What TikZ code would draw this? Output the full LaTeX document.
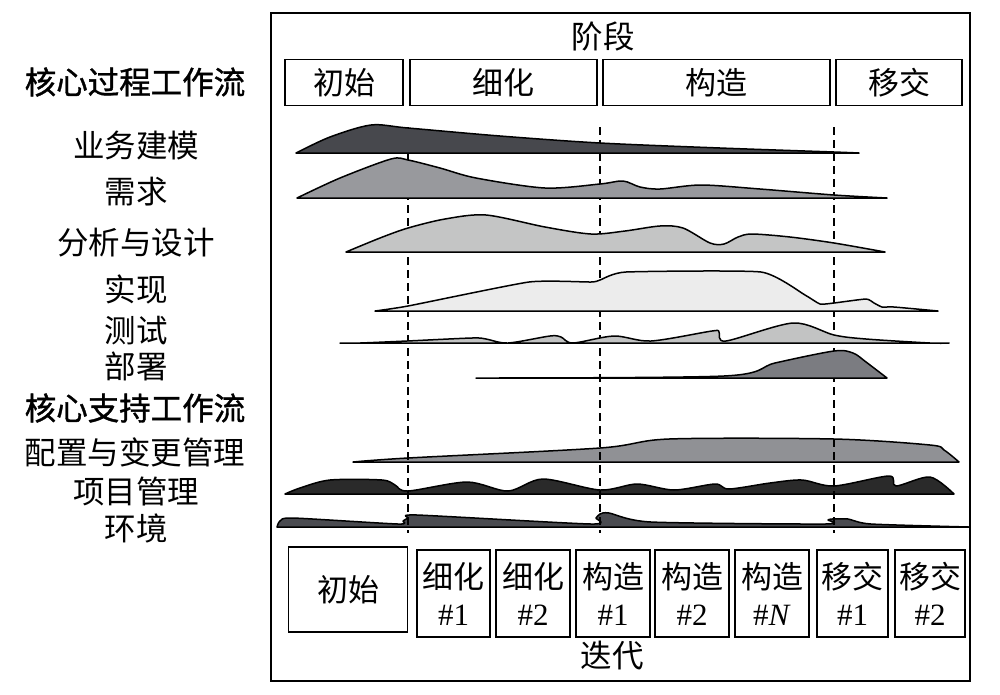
\documentclass[tikz,border=0pt]{standalone}
\usepackage{fontspec}
\setmainfont{Liberation Serif}
\newfontfamily\cjk{Noto Sans CJK SC}
\newfontfamily\cjkb[FakeBold=1.2]{Noto Sans CJK SC}
\definecolor{cA}{HTML}{47484D}
\definecolor{cB}{HTML}{98999D}
\definecolor{cC}{HTML}{C4C5C5}
\definecolor{cD}{HTML}{ECECEC}
\definecolor{cE}{HTML}{C2C3C3}
\definecolor{cF}{HTML}{7B7C81}
\definecolor{cG}{HTML}{909195}
\definecolor{cH}{HTML}{2A2A2A}
\definecolor{cI}{HTML}{4A4B50}
\begin{document}
\begin{tikzpicture}[x=1pt,y=-1pt,
  lab/.style={font=\cjk\fontsize{31.5}{34}\selectfont, inner sep=0pt},
  head/.style={font=\cjkb\fontsize{31.5}{34}\selectfont, inner sep=0pt},
  pbox/.style={draw, line width=1.5pt, inner sep=0pt, minimum height=46pt, font=\cjk\fontsize{31}{34}\selectfont},
  ibox/.style={draw, line width=1.5pt, inner sep=0pt, align=center, font=\fontsize{31}{37}\selectfont},
  hump/.style={draw=black, line width=1.5pt, line join=round},
  sepline/.style={line width=1.3pt, dash pattern=on 8pt off 5pt}]
\useasboundingbox (0,0) rectangle (1000,694);
% frame
\node[draw, line width=1.6pt, minimum width=699pt, minimum height=668pt, inner sep=0pt] (frame) at (620.5,347) {};
\node[lab] (phase) at (603,36) {阶段};
\node[pbox, minimum width=118pt] (pInit) at (344,82.5) {初始};
\node[pbox, minimum width=187pt] (pElab) at (503.5,82.5) {细化};
\node[pbox, minimum width=227pt] (pCons) at (716.5,82.5) {构造};
\node[pbox, minimum width=126pt] (pTran) at (899,82.5) {移交};
% left labels
\node[head] (h1) at (135,82) {核心过程工作流};
\node[lab] (l1) at (136,146) {业务建模};
\node[lab] (l2) at (136,192) {需求};
\node[lab] (l3) at (136,243) {分析与设计};
\node[lab] (l4) at (136,289) {实现};
\node[lab] (l5) at (136,331) {测试};
\node[lab] (l6) at (136,366) {部署};
\node[head] (h2) at (135,408) {核心支持工作流};
\node[lab] (l7) at (135,452) {配置与变更管理};
\node[lab] (l8) at (136,491) {项目管理};
\node[lab] (l9) at (136,528) {环境};
% supporting workflows (under dashed lines)
\draw[hump, fill=cG] plot[smooth, tension=0.5] coordinates {(353,462) (408,458) (600,448) (669,439) (834,439) (930,445) (944,450) (959,462)} -- cycle;
\draw[hump, fill=cH] plot[smooth, tension=0.5] coordinates {(285,494) (300,488) (330,480) (382,480) (395,485) (408,491) (467,482) (508,491) (543,479) (600,490) (637,484) (674,490) (715,484) (729,489) (770,483) (802,480) (834,486) (889,476) (896,486) (930,477) (954,494)} -- cycle;
\draw[hump, fill=cI] plot[smooth, tension=0.4] coordinates {(277,527) (280,521) (293,518) (398,524) (403,521) (408,518) (417,515) (591,524) (596,518) (600,514) (609,513) (651,522) (825,524) (828,520) (832,519) (848,519) (871,524) (969,527)} -- cycle;
% dashed phase separators
\coordinate (d1t) at (408,127); \coordinate (d1b) at (408,533);
\coordinate (d2t) at (600,127); \coordinate (d2b) at (600,533);
\coordinate (d3t) at (834,127); \coordinate (d3b) at (834,533);
\draw[sepline] (d1t) -- (d1b);
\draw[sepline] (d2t) -- (d2b);
\draw[sepline] (d3t) -- (d3b);
% core process workflows
\draw[hump, fill=cA] plot[smooth, tension=0.5] coordinates {(296,153) (330,137) (371,125) (408,128) (500,136) (600,143) (720,148) (834,152) (859,153)} -- cycle;
\draw[hump, fill=cB] plot[smooth, tension=0.5] coordinates {(297,198) (340,178) (391,159) (408,160) (440,168) (476,178) (545,188) (600,184) (623,181) (640,187) (660,189) (701,185) (760,189) (834,195) (887,198)} -- cycle;
\draw[hump, fill=cC] plot[smooth, tension=0.5] coordinates {(346,252) (380,238) (408,228) (445,219) (486,215) (545,227) (591,234) (625,231) (660,226) (683,228) (710,243) (724,244) (738,237) (752,234) (790,237) (834,243) (885,252)} -- cycle;
\draw[hump, fill=cD] plot[smooth, tension=0.3] coordinates {(375,311) (408,306) (529,282) (591,282) (600,280) (626,272) (761,272) (805,295) (820,304) (834,303) (866,299) (874,303) (882,307) (894,307) (938,311)} -- cycle;
\draw[hump, fill=cE] plot[smooth, tension=0.5] coordinates {(340,343) (360,343) (407,341) (472,338) (486,339) (508,343) (550,336) (561,337) (573,343) (614,336) (651,341) (712,331) (719,332) (726,341) (793,323) (834,335) (866,339) (930,343) (949,343)} -- cycle;
\draw[hump, fill=cF] plot[smooth, tension=0.5] coordinates {(476,378) (724,376) (775,363) (834,351) (853,353) (866,362) (887,378)} -- cycle;
% iterations
\node[ibox, minimum width=119pt, minimum height=85pt, font=\cjk\fontsize{31}{37}\selectfont] (iInit) at (348,589.5) {初始};
\node[ibox, minimum width=73pt, minimum height=87pt] (iE1) at (453.5,593.5) {{\cjk 细化}\\\#1};
\node[ibox, minimum width=74pt, minimum height=87pt] (iE2) at (533.2,593.5) {{\cjk 细化}\\\#2};
\node[ibox, minimum width=74pt, minimum height=87pt] (iC1) at (613,593.5) {{\cjk 构造}\\\#1};
\node[ibox, minimum width=74pt, minimum height=87pt] (iC2) at (692,593.5) {{\cjk 构造}\\\#2};
\node[ibox, minimum width=74pt, minimum height=87pt] (iCN) at (772,593.5) {{\cjk 构造}\\\#\textit{N}};
\node[ibox, minimum width=71pt, minimum height=87pt] (iT1) at (852.5,593.5) {{\cjk 移交}\\\#1};
\node[ibox, minimum width=70pt, minimum height=87pt] (iT2) at (930,593.5) {{\cjk 移交}\\\#2};
\node[lab] (iter) at (612,656) {迭代};
\end{tikzpicture}
\end{document}
